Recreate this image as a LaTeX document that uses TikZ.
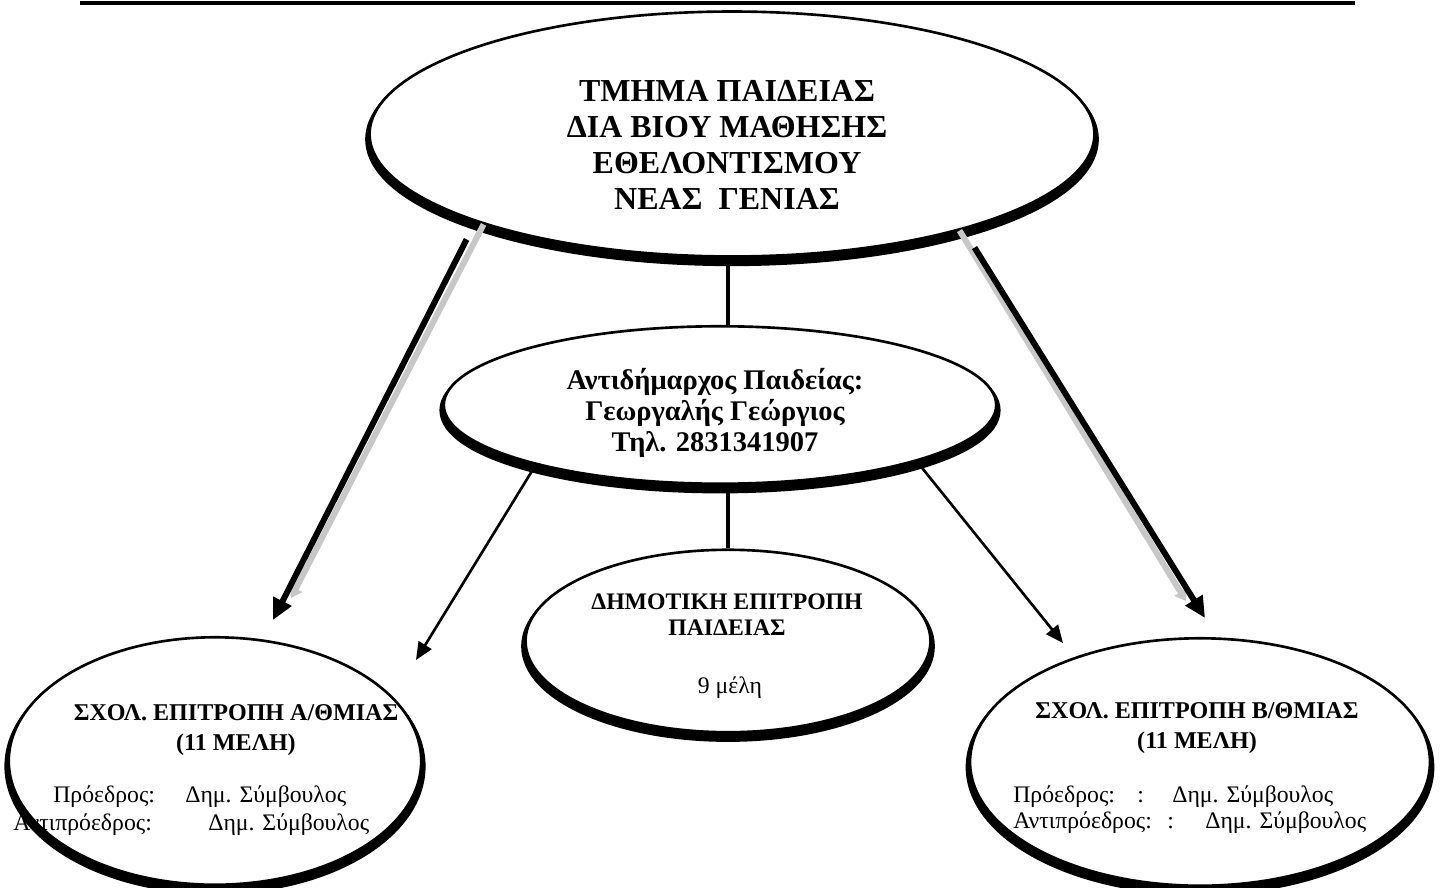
\documentclass[tikz,border=0pt]{standalone}
\usepackage{fontspec}
\setmainfont{Liberation Serif}
\usepackage{tikz}
\usetikzlibrary{positioning, shapes.geometric, arrows.meta, shadows, backgrounds}
\tikzset{
    base/.style={
        align=center,
        inner sep=0pt,
        text=black
    },
    unit/.style={
        ellipse,
        draw=black,
        line width=1.5pt,
        fill=white,
        inner sep=0pt,
        drop shadow={opacity=1, fill=black, draw=black, line width=5pt, shadow xshift=0pt, shadow yshift=-3pt}
    },
    headline/.style={
        base,
        font=\bfseries\fontsize{18.2}{20.5}\selectfont
    },
    deputytext/.style={
        base,
        font=\bfseries\fontsize{16.2}{17.6}\selectfont
    },
    boardtitle/.style={
        base,
        font=\bfseries\fontsize{13.7}{17}\selectfont
    },
    councilhead/.style={
        base,
        font=\bfseries\fontsize{13.5}{14.8}\selectfont
    },
    plain/.style={
        base,
        font=\fontsize{13.5}{16}\selectfont
    },
    member/.style={
        plain,
        anchor=base west
    },
    link/.style={
        line width=2.8pt
    },
    flow/.style={
        -{Triangle[length=10pt, width=8.5pt]},
        line width=1.5pt
    },
    bigflow/.style={
        -{Triangle[length=12pt, width=11pt]},
        line width=3.4pt
    },
    ghost/.style={
        -{Triangle[length=6pt, width=8pt]},
        line width=3.4pt,
        black!22
    }
}

\begin{document}
\begin{tikzpicture}[x=0.02cm, y=-0.02cm]
  \useasboundingbox (0,0) rectangle (1442,888);

  % Rule
  \draw[line width=2.3pt] (80,3) -- (1355,3);

  % Units
  \node[unit, minimum width=14.5cm, minimum height=4.9cm] (dept) at (732,134) {};
  \node[unit, minimum width=11.05cm, minimum height=3.15cm] (deputy) at (720,405) {};
  \node[unit, minimum width=8.1cm, minimum height=3.65cm] (council) at (728,641) {};
  \node[unit, minimum width=8.25cm, minimum height=4.95cm] (boardA) at (215,761) {};
  \node[unit, minimum width=9.2cm, minimum height=4.95cm] (boardB) at (1200,762) {};

  % Texts
  \node[headline] (deptText) at (727,145) {ΤΜΗΜΑ ΠΑΙΔΕΙΑΣ\\ΔΙΑ ΒΙΟΥ ΜΑΘΗΣΗΣ\\ΕΘΕΛΟΝΤΙΣΜΟΥ\\ΝΕΑΣ\ \ ΓΕΝΙΑΣ};
  \node[deputytext] (deputyText) at (715,413) {Αντιδήμαρχος Παιδείας:\\Γεωργαλής Γεώργιος\\Τηλ. 2831341907};
  \node[councilhead] (councilText) at (727,615) {ΔΗΜΟΤΙΚΗ ΕΠΙΤΡΟΠΗ\\ΠΑΙΔΕΙΑΣ};
  \node[plain] (councilCount) at (730,688) {9 μέλη};

  \node[boardtitle] (boardAText) at (236,730) {ΣΧΟΛ. ΕΠΙΤΡΟΠΗ Α/ΘΜΙΑΣ\\(11 ΜΕΛΗ)};
  \node[member] (boardAChair) at (53,802) {\makebox[2.64cm][l]{Πρόεδρος:}Δημ. Σύμβουλος};
  \node[member] (boardAVice) at (13,830) {\makebox[3.9cm][l]{Αντιπρόεδρος:}Δημ. Σύμβουλος};

  \node[boardtitle] (boardBText) at (1197,728) {ΣΧΟΛ. ΕΠΙΤΡΟΠΗ Β/ΘΜΙΑΣ\\(11 ΜΕΛΗ)};
  \node[member] (boardBChair) at (1013,802) {\makebox[2.48cm][l]{Πρόεδρος:}\makebox[0.7cm][l]{:}Δημ. Σύμβουλος};
  \node[member] (boardBVice) at (1013,828) {\makebox[3.08cm][l]{Αντιπρόεδρος:}\makebox[0.76cm][l]{:}Δημ. Σύμβουλος};

  % Free ends
  \coordinate (tipA) at (273,620);
  \coordinate (tipB) at (1205,618);
  \coordinate (shadeA) at (291,598);
  \coordinate (shadeB) at (1186,601);
  \coordinate (tipC) at (416,660);
  \coordinate (tipD) at (1063,643);

  % Connections
  \begin{scope}[on background layer]
    \draw[link] (dept.south -| council.north) -- (deputy.north -| council.north);
    \draw[link] (deputy.south -| council.north) -- (council.north);
  \end{scope}

  \draw[ghost] (dept.200) -- (shadeA);
  \draw[ghost] (dept.337) -- (shadeB);
  \draw[bigflow] ([shift={(-17,15)}]dept.200) -- (tipA);
  \draw[bigflow] ([shift={(15,17)}]dept.337) -- (tipB);

  \draw[flow] (deputy.198) -- (tipC);
  \draw[flow] (deputy.344) -- (tipD);

\end{tikzpicture}
\end{document}
